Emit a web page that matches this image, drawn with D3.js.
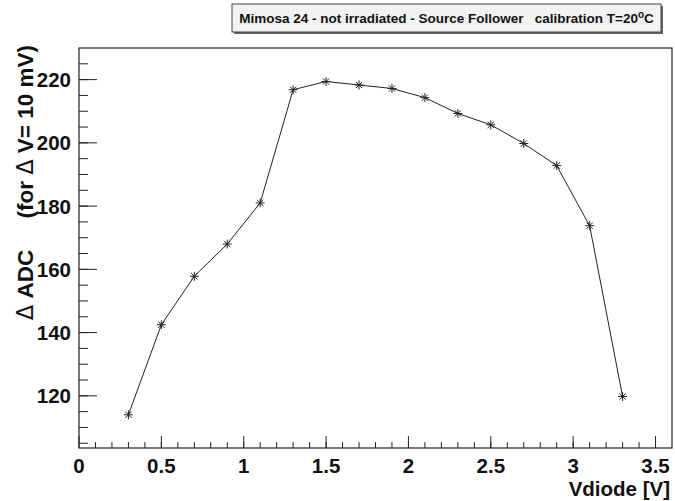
<!DOCTYPE html>
<html><head><meta charset="utf-8">
<script src="https://cdn.jsdelivr.net/npm/d3@7"></script>
<style>body{margin:0;background:#fff}svg{display:block}text{white-space:pre}</style>
</head><body>
<script>
const vdiode = [0.3,0.5,0.7,0.9,1.1,1.3,1.5,1.7,1.9,2.1,2.3,2.5,2.7,2.9,3.1,3.3];
const deltaADC = [114,142.5,157.8,168,181,216.8,219.4,218.3,217.2,214.3,209.3,205.7,199.8,192.8,173.8,119.8];
const xTicks = [0,0.5,1,1.5,2,2.5,3,3.5];
const yTicks = [120,140,160,180,200,220];
const xDomain = [0,3.6];
const yDomain = [103.5,230];

const W=675,H=501;
const L=79,R=672,T=48,B=448;
const svg=d3.select("body").append("svg").attr("width",W).attr("height",H);
const x=d3.scaleLinear().domain(xDomain).range([L,R]);
const y=d3.scaleLinear().domain(yDomain).range([B,T]);
const font="'Liberation Sans',Arial,Helvetica,sans-serif";
const ink="#222";
const fs=20.5;

// frame
svg.append("rect").attr("x",L).attr("y",T).attr("width",R-L).attr("height",B-T)
  .attr("fill","none").attr("stroke",ink).attr("stroke-width",1.2);

// x ticks
const xMinor=d3.range(0,36).map(i=>i/10).filter(v=>v>xDomain[0]&&v<xDomain[1]);
svg.append("g").selectAll("line").data(xMinor).join("line")
  .attr("x1",d=>x(d)).attr("x2",d=>x(d)).attr("y1",B).attr("y2",B-6)
  .attr("stroke",ink).attr("stroke-width",1);
svg.append("g").selectAll("line").data(xTicks).join("line")
  .attr("x1",d=>x(d)).attr("x2",d=>x(d)).attr("y1",B).attr("y2",B-12)
  .attr("stroke",ink).attr("stroke-width",1);
svg.append("g").selectAll("text").data(xTicks).join("text")
  .attr("x",d=>x(d)).attr("y",473).attr("text-anchor","middle")
  .attr("font-family",font).attr("font-weight","bold").attr("font-size",fs).attr("fill","#111")
  .text(d=>d3.format("")(d));

// y ticks
const yMinor=d3.range(105,230,5).filter(v=>v>yDomain[0]&&v<yDomain[1]);
svg.append("g").selectAll("line").data(yMinor).join("line")
  .attr("x1",L).attr("x2",L+9).attr("y1",d=>y(d)).attr("y2",d=>y(d))
  .attr("stroke",ink).attr("stroke-width",1);
svg.append("g").selectAll("line").data(yTicks).join("line")
  .attr("x1",L).attr("x2",L+18).attr("y1",d=>y(d)).attr("y2",d=>y(d))
  .attr("stroke",ink).attr("stroke-width",1);
svg.append("g").selectAll("text").data(yTicks).join("text")
  .attr("x",71).attr("y",d=>y(d)+7.5).attr("text-anchor","end")
  .attr("font-family",font).attr("font-weight","bold").attr("font-size",fs).attr("fill","#111")
  .text(d=>d);

// axis titles
svg.append("text").attr("x",R-2).attr("y",496).attr("text-anchor","end")
  .attr("font-family",font).attr("font-weight","bold").attr("font-size",fs).attr("fill","#111")
  .text("Vdiode [V]");
const yt=svg.append("text").attr("transform",`translate(33,${T-3}) rotate(-90)`).attr("text-anchor","end")
  .attr("font-family",font).attr("font-weight","bold").attr("font-size",22.5).attr("fill","#111");
yt.append("tspan").attr("font-weight","normal").attr("font-family","'DejaVu Sans',sans-serif").text("\u0394");
yt.append("tspan").text(" ADC     (for ");
yt.append("tspan").attr("font-weight","normal").attr("font-family","'DejaVu Sans',sans-serif").text("\u0394");
yt.append("tspan").text(" V= 10 mV)");

// line
svg.append("path").datum(vdiode.map((v,i)=>[v,deltaADC[i]]))
  .attr("d",d3.line().x(d=>x(d[0])).y(d=>y(d[1])))
  .attr("fill","none").attr("stroke",ink).attr("stroke-width",1);

// star markers
const s=4.5;
const star=`M${-s},0L${s},0M0,${-s}L0,${s}M${-s*0.7},${-s*0.7}L${s*0.7},${s*0.7}M${-s*0.7},${s*0.7}L${s*0.7},${-s*0.7}`;
svg.append("g").selectAll("path").data(vdiode.map((v,i)=>[v,deltaADC[i]])).join("path")
  .attr("transform",d=>`translate(${x(d[0])},${y(d[1])})`).attr("d",star)
  .attr("stroke",ink).attr("stroke-width",1).attr("fill","none");

// title box
const tb={x0:232,x1:661,y0:4,y1:32};
svg.append("rect").attr("x",tb.x0+2).attr("y",tb.y0+2).attr("width",tb.x1-tb.x0).attr("height",tb.y1-tb.y0).attr("fill","#666");
svg.append("rect").attr("x",tb.x0).attr("y",tb.y0).attr("width",tb.x1-tb.x0).attr("height",tb.y1-tb.y0)
  .attr("fill","#f2f2f2").attr("stroke","#444").attr("stroke-width",1);
const tt=svg.append("text").attr("x",(tb.x0+tb.x1)/2).attr("y",23).attr("text-anchor","middle")
  .attr("font-family",font).attr("font-weight","bold").attr("font-size",13.5).attr("fill","#111");
tt.append("tspan").text("Mimosa 24 - not irradiated - Source Follower   calibration T=20");
tt.append("tspan").attr("dy",-5).attr("font-size",10).text("o");
tt.append("tspan").attr("dy",5).text("C");
</script>
</body></html>
